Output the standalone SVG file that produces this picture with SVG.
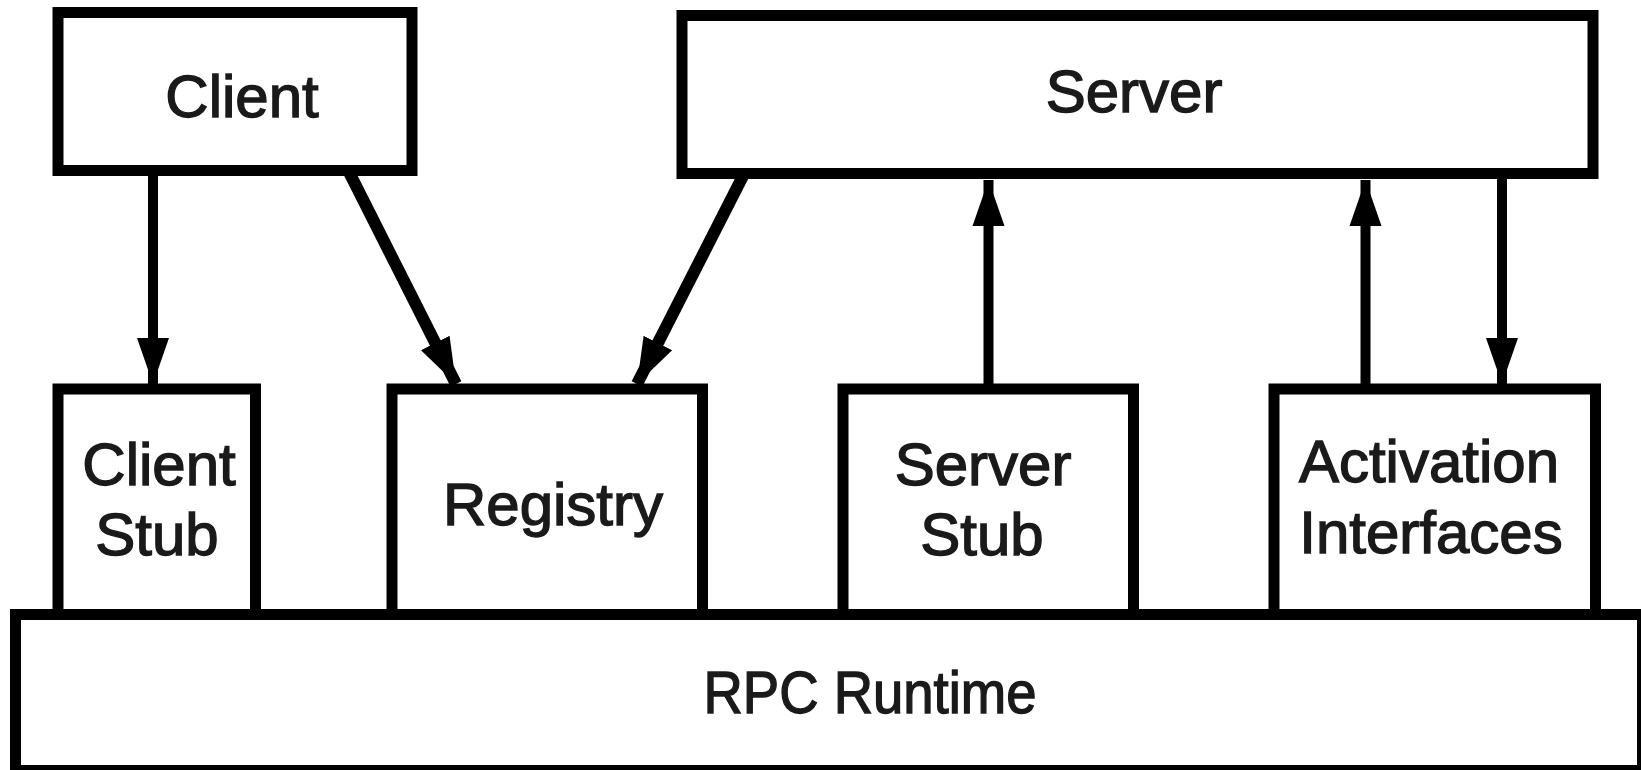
<svg xmlns="http://www.w3.org/2000/svg" width="1641" height="770" viewBox="0 0 1641 770">
<style>
.box{fill:#fff;stroke:#000;stroke-width:11}
.lbl{font-family:"Liberation Sans",Arial,sans-serif;font-size:60px;fill:#1a1a1a;stroke:#1a1a1a;stroke-width:1.4;text-anchor:middle}
.conn{stroke:#000;stroke-width:10;fill:none}
.diag{stroke-width:12}
</style>
<defs>
<marker id="ah" markerUnits="userSpaceOnUse" markerWidth="46" markerHeight="34" refX="46" refY="17" orient="auto">
<path d="M0,1 L46,17 L0,33 Z" fill="#000"/>
</marker>
</defs>
<rect width="1641" height="770" fill="#fff"/>
<g id="client">
<rect class="box" x="58" y="12.5" width="354" height="158"/>
<text class="lbl" x="242" y="117">Client</text>
</g>
<g id="server">
<rect class="box" x="682" y="15.5" width="911" height="158"/>
<text class="lbl" x="1134" y="112">Server</text>
</g>
<g id="client-stub">
<rect class="box" x="58" y="389" width="197.5" height="226"/>
<text class="lbl" x="159" y="485">Client</text>
<text class="lbl" x="157" y="555">Stub</text>
</g>
<g id="registry">
<rect class="box" x="392" y="389" width="310.5" height="226"/>
<text class="lbl" x="553" y="525">Registry</text>
</g>
<g id="server-stub">
<rect class="box" x="843" y="389" width="290.5" height="226"/>
<text class="lbl" x="983" y="485">Server</text>
<text class="lbl" x="982" y="555">Stub</text>
</g>
<g id="activation-interfaces">
<rect class="box" x="1274" y="389" width="321.5" height="226"/>
<text class="lbl" x="1429" y="482">Activation</text>
<text class="lbl" x="1431" y="553">Interfaces</text>
</g>
<g id="rpc-runtime">
<rect class="box" x="15.5" y="614.5" width="1627" height="156"/>
<text class="lbl" x="870" y="713" textLength="333" lengthAdjust="spacingAndGlyphs">RPC Runtime</text>
</g>
<g id="connectors">
<line class="conn" x1="153" y1="172" x2="153" y2="384" marker-end="url(#ah)"/>
<line class="conn diag" x1="349" y1="172" x2="456" y2="384" marker-end="url(#ah)"/>
<line class="conn diag" x1="745" y1="172" x2="637" y2="384" marker-end="url(#ah)"/>
<line class="conn" x1="988.5" y1="390" x2="988.5" y2="180" marker-end="url(#ah)"/>
<line class="conn" x1="1365.5" y1="390" x2="1365.5" y2="180" marker-end="url(#ah)"/>
<line class="conn" x1="1502" y1="175" x2="1502" y2="384" marker-end="url(#ah)"/>
</g>
</svg>
